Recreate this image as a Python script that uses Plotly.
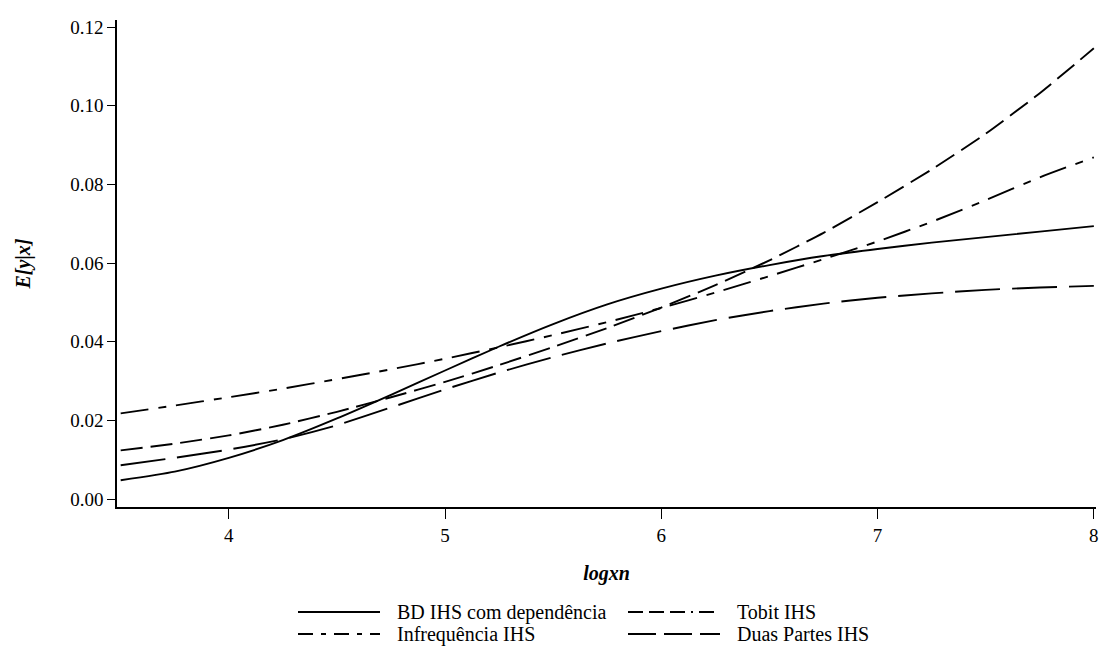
import plotly.graph_objects as go

logxn = [3.5, 3.75, 4.0, 4.25, 4.5, 4.75, 5.0, 5.25, 5.5, 5.75, 6.0, 6.25, 6.5, 6.75, 7.0, 7.25, 7.5, 7.75, 8.0]

bd_ihs_dep = [0.0048, 0.0070, 0.0105, 0.0150, 0.0205, 0.0265, 0.0327, 0.0388, 0.0445, 0.0495, 0.0535,
              0.0568, 0.0595, 0.0618, 0.0636, 0.0652, 0.0666, 0.0680, 0.0694]
tobit_ihs = [0.0124, 0.0141, 0.0162, 0.0189, 0.0222, 0.0259, 0.0298, 0.0341, 0.0387, 0.0435, 0.0487,
             0.0544, 0.0607, 0.0677, 0.0755, 0.0838, 0.0929, 0.1032, 0.1146]
infreq_ihs = [0.0218, 0.0238, 0.0259, 0.0281, 0.0305, 0.0330, 0.0357, 0.0386, 0.0417, 0.0450, 0.0486,
              0.0525, 0.0567, 0.0610, 0.0655, 0.0705, 0.0760, 0.0818, 0.0869]
duas_partes_ihs = [0.0086, 0.0105, 0.0126, 0.0152, 0.0188, 0.0233, 0.0279, 0.0322, 0.0361, 0.0396, 0.0427,
                   0.0455, 0.0478, 0.0497, 0.0512, 0.0523, 0.0532, 0.0538, 0.0542]

series_names = ["BD IHS com dependência", "Tobit IHS", "Infrequência IHS", "Duas Partes IHS"]
x_ticks = [4, 5, 6, 7, 8]
y_ticks = [0.00, 0.02, 0.04, 0.06, 0.08, 0.10, 0.12]

FONT = "Liberation Serif, Times New Roman, serif"
dashes = ["solid", "22px,8px", "28px,10px,8px,10px", "45px,12px"]
series = [bd_ihs_dep, tobit_ihs, infreq_ihs, duas_partes_ihs]

fig = go.Figure()
for name, ys, d in zip(series_names, series, dashes):
    fig.add_trace(go.Scatter(x=logxn, y=ys, mode="lines", name=name, showlegend=False,
                             line=dict(color="black", width=1.9, dash=d, shape="spline", smoothing=0.6)))

# manual legend (Stata-style long samples)
L, R, T, B = 117, 1096, 20, 507
W, H = R - L, B - T
def px(X):
    return (X - L) / W
def py(Y):
    return (B - Y) / H

legend_dash = ["solid", "15px,6px,15px,6px,15px,6px,2px,6px", "15px,8px,5px,8px", "28px,8px"]
legend_pos = [(298, 380, 612), (628, 720, 612), (298, 380, 634), (628, 720, 634)]
for (x0, x1, yy), name, d in zip(legend_pos, series_names, legend_dash):
    fig.add_shape(type="line", xref="paper", yref="paper", x0=px(x0), x1=px(x1), y0=py(yy), y1=py(yy),
                  line=dict(color="black", width=1.9, dash=d))
    fig.add_annotation(xref="paper", yref="paper", x=px(x1 + 15), y=py(yy), text=name, showarrow=False,
                       xanchor="left", yanchor="middle", font=dict(family=FONT, size=20, color="black"))

fig.update_layout(
    width=1100, height=648,
    margin=dict(l=L, r=1100 - R, t=T, b=648 - B, autoexpand=False),
    paper_bgcolor="white", plot_bgcolor="white",
    font=dict(family=FONT, size=19, color="black"),
    showlegend=False,
)
fig.update_xaxes(range=[3.483, 8.01], tickvals=x_ticks, ticks="outside", ticklen=10, tickwidth=1.3,
                 tickcolor="black", showline=True, linecolor="black", linewidth=1.5, showgrid=False,
                 zeroline=False, automargin=False, ticklabeloverflow="allow",
                 tickfont=dict(family=FONT, size=19),
                 title=dict(text="<b><i>logxn</i></b>", standoff=21, font=dict(family=FONT, size=20)))
fig.update_yaxes(range=[-0.002, 0.1218], tickvals=y_ticks, tickformat=".2f", ticks="outside", ticklen=8,
                 tickwidth=1.3, tickcolor="black", showline=True, linecolor="black", linewidth=1.5,
                 showgrid=False, zeroline=False, automargin=False, tickfont=dict(family=FONT, size=19),
                 title=dict(text="<b><i>E[y|x]</i></b>", standoff=34, font=dict(family=FONT, size=20)))

fig.write_html("out.html", config={"displayModeBar": False},
               post_script="document.body.style.margin='0';document.body.style.overflow='hidden';")
